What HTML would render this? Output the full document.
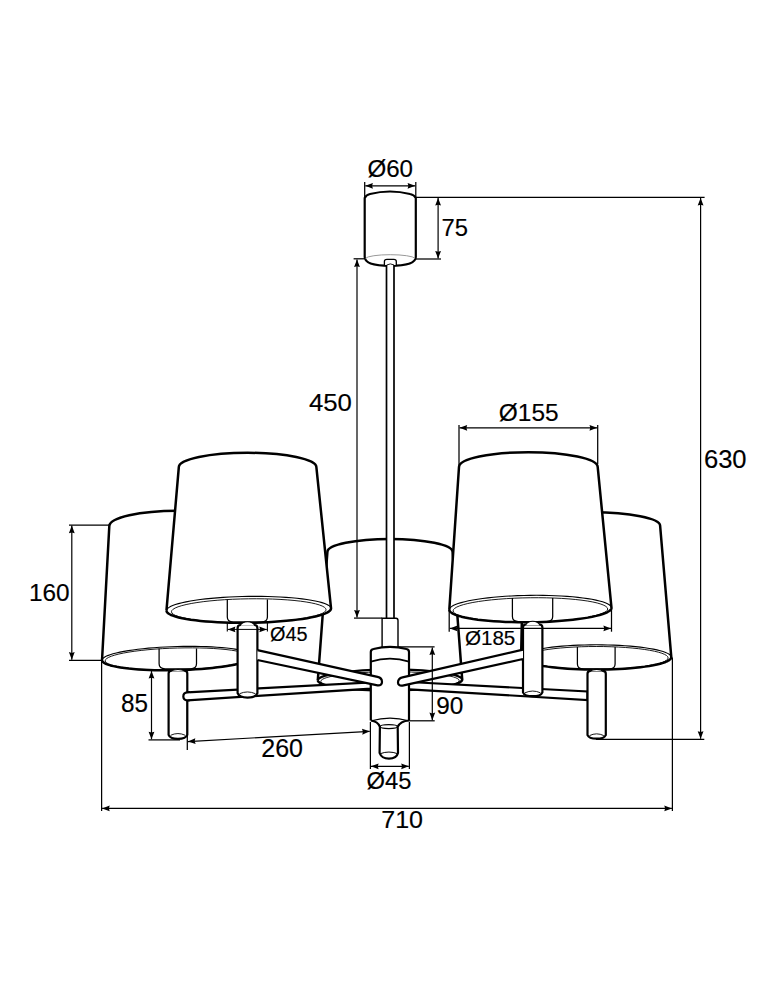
<!DOCTYPE html>
<html><head><meta charset="utf-8"><style>html,body{margin:0;padding:0;background:#fff;width:774px;height:1000px;overflow:hidden;position:relative}</style></head>
<body>
<svg width="774" height="1000" viewBox="0 0 774 1000" style="position:absolute;left:0;top:0;font-family:'Liberation Sans',sans-serif">
<rect width="774" height="1000" fill="#fff"/>
<path d="M317.8,680.38 L327.4,552 A62.6,13 0 0 1 452.6,552 L462.2,679.62 L461.98,680.45 L461.32,681.27 L460.22,682.08 L458.68,682.89 L456.72,683.67 L454.35,684.43 L451.59,685.16 L448.44,685.87 L444.94,686.53 L441.09,687.16 L436.93,687.74 L432.48,688.27 L427.77,688.76 L422.83,689.18 L417.68,689.56 L412.36,689.87 L406.91,690.12 L401.35,690.31 L395.72,690.44 L390.05,690.5 L384.39,690.5 L378.76,690.43 L373.2,690.3 L367.74,690.1 L362.42,689.85 L357.27,689.53 L352.32,689.15 L347.61,688.72 L343.15,688.23 L338.99,687.69 L335.14,687.11 L331.62,686.48 L328.47,685.81 L325.7,685.1 L323.32,684.37 L321.35,683.6 L319.81,682.82 L318.7,682.02 L318.03,681.2 L317.8,680.38 Z" fill="#fff" stroke="none"/>
<path d="M317.8,680.38 L318.02,679.55 L318.68,678.73 L319.78,677.92 L321.32,677.11 L323.28,676.33 L325.65,675.57 L328.41,674.84 L331.56,674.13 L335.06,673.47 L338.91,672.84 L343.07,672.26 L347.52,671.73 L352.23,671.24 L357.17,670.82 L362.32,670.44 L367.64,670.13 L373.09,669.88 L378.65,669.69 L384.28,669.56 L389.95,669.5 L395.61,669.5 L401.24,669.57 L406.8,669.7 L412.26,669.9 L417.58,670.15 L422.73,670.47 L427.68,670.85 L432.39,671.28 L436.85,671.77 L441.01,672.31 L444.86,672.89 L448.38,673.52 L451.53,674.19 L454.3,674.9 L456.68,675.63 L458.65,676.4 L460.19,677.18 L461.3,677.98 L461.97,678.8 L462.2,679.62 " fill="none" stroke="#000" stroke-width="2.2"/>
<path d="M459.2,680.64 L458.83,681.61 L457.7,682.58 L455.83,683.53 L453.24,684.45 L449.95,685.34 L446.01,686.17 L441.46,686.95 L436.34,687.67 L430.71,688.31 L424.64,688.87 L418.19,689.35 L411.43,689.73 L404.43,690.02 L397.28,690.21 L390.05,690.3 L382.82,690.29 L375.66,690.17 L368.66,689.96 L361.9,689.64 L355.44,689.24 L349.37,688.74 L343.73,688.15 L338.61,687.49 L334.05,686.76 L330.1,685.96 L326.8,685.11 L324.2,684.22 L322.32,683.29 L321.19,682.33 L320.8,681.36 L321.17,680.39 L322.3,679.42 L324.17,678.47 L326.76,677.55 L330.05,676.66 L333.99,675.83 L338.54,675.05 L343.66,674.33 L349.29,673.69 L355.36,673.13 L361.81,672.65 L368.57,672.27 L375.57,671.98 L382.72,671.79 L389.95,671.7 L397.18,671.71 L404.34,671.83 L411.34,672.04 L418.1,672.36 L424.56,672.76 L430.63,673.26 L436.27,673.85 L441.39,674.51 L445.95,675.24 L449.9,676.04 L453.2,676.89 L455.8,677.78 L457.68,678.71 L458.81,679.67 L459.2,680.64 Z" fill="none" stroke="#000" stroke-width="0.9"/>
<path d="M317.8,680.38 L327.4,552 A62.6,13 0 0 1 452.6,552 L462.2,679.62 L461.98,680.45 L461.32,681.27 L460.22,682.08 L458.68,682.89 L456.72,683.67 L454.35,684.43 L451.59,685.16 L448.44,685.87 L444.94,686.53 L441.09,687.16 L436.93,687.74 L432.48,688.27 L427.77,688.76 L422.83,689.18 L417.68,689.56 L412.36,689.87 L406.91,690.12 L401.35,690.31 L395.72,690.44 L390.05,690.5 L384.39,690.5 L378.76,690.43 L373.2,690.3 L367.74,690.1 L362.42,689.85 L357.27,689.53 L352.32,689.15 L347.61,688.72 L343.15,688.23 L338.99,687.69 L335.14,687.11 L331.62,686.48 L328.47,685.81 L325.7,685.1 L323.32,684.37 L321.35,683.6 L319.81,682.82 L318.7,682.02 L318.03,681.2 L317.8,680.38 " fill="none" stroke="#000" stroke-width="2.5" stroke-linejoin="round"/>
<path d="M102.03,660.28 L109.3,526.3 A68.2,15.5 0 0 1 245.7,526.3 L253.37,656.32 L253.17,657.25 L252.49,658.19 L251.36,659.13 L249.77,660.06 L247.73,660.98 L245.27,661.89 L242.38,662.77 L239.1,663.63 L235.44,664.45 L231.43,665.24 L227.08,665.98 L222.43,666.68 L217.5,667.32 L212.33,667.91 L206.94,668.44 L201.38,668.91 L195.67,669.31 L189.84,669.64 L183.95,669.9 L178.01,670.1 L172.07,670.22 L166.17,670.26 L160.33,670.23 L154.61,670.13 L149.03,669.96 L143.62,669.71 L138.42,669.39 L133.47,669.01 L128.79,668.56 L124.41,668.04 L120.36,667.47 L116.66,666.84 L113.34,666.15 L110.41,665.42 L107.9,664.64 L105.83,663.83 L104.19,662.98 L103.01,662.1 L102.28,661.2 L102.03,660.28 Z" fill="#fff" stroke="none"/>
<path d="M102.03,660.28 L102.23,659.35 L102.91,658.41 L104.04,657.47 L105.63,656.54 L107.67,655.62 L110.13,654.71 L113.02,653.83 L116.3,652.97 L119.96,652.15 L123.97,651.36 L128.32,650.62 L132.97,649.92 L137.9,649.28 L143.07,648.69 L148.46,648.16 L154.02,647.69 L159.73,647.29 L165.56,646.96 L171.45,646.7 L177.39,646.5 L183.33,646.38 L189.23,646.34 L195.07,646.37 L200.79,646.47 L206.37,646.64 L211.78,646.89 L216.98,647.21 L221.93,647.59 L226.61,648.04 L230.99,648.56 L235.04,649.13 L238.74,649.76 L242.06,650.45 L244.99,651.18 L247.5,651.96 L249.57,652.77 L251.21,653.62 L252.39,654.5 L253.12,655.4 L253.37,656.32 " fill="none" stroke="#000" stroke-width="1.1"/>
<path d="M250.18,657 L249.81,658.15 L248.65,659.31 L246.72,660.46 L244.03,661.6 L240.61,662.7 L236.5,663.77 L231.75,664.78 L226.41,665.73 L220.53,666.6 L214.18,667.39 L207.44,668.08 L200.37,668.68 L193.05,669.16 L185.56,669.54 L177.99,669.8 L170.41,669.93 L162.91,669.95 L155.58,669.85 L148.48,669.63 L141.71,669.29 L135.33,668.83 L129.42,668.27 L124.03,667.6 L119.23,666.84 L115.08,665.99 L111.61,665.07 L108.86,664.07 L106.87,663.02 L105.65,661.93 L105.22,660.8 L105.59,659.65 L106.75,658.49 L108.68,657.34 L111.37,656.2 L114.79,655.1 L118.9,654.03 L123.65,653.02 L128.99,652.07 L134.87,651.2 L141.22,650.41 L147.96,649.72 L155.03,649.12 L162.35,648.64 L169.84,648.26 L177.41,648 L184.99,647.87 L192.49,647.85 L199.82,647.95 L206.92,648.17 L213.69,648.51 L220.07,648.97 L225.98,649.53 L231.37,650.2 L236.17,650.96 L240.32,651.81 L243.79,652.73 L246.54,653.73 L248.53,654.78 L249.75,655.87 L250.18,657 Z" fill="none" stroke="#000" stroke-width="0.9"/>
<path d="M102.03,660.28 L109.3,526.3 A68.2,15.5 0 0 1 245.7,526.3 L253.37,656.32 L253.17,657.25 L252.49,658.19 L251.36,659.13 L249.77,660.06 L247.73,660.98 L245.27,661.89 L242.38,662.77 L239.1,663.63 L235.44,664.45 L231.43,665.24 L227.08,665.98 L222.43,666.68 L217.5,667.32 L212.33,667.91 L206.94,668.44 L201.38,668.91 L195.67,669.31 L189.84,669.64 L183.95,669.9 L178.01,670.1 L172.07,670.22 L166.17,670.26 L160.33,670.23 L154.61,670.13 L149.03,669.96 L143.62,669.71 L138.42,669.39 L133.47,669.01 L128.79,668.56 L124.41,668.04 L120.36,667.47 L116.66,666.84 L113.34,666.15 L110.41,665.42 L107.9,664.64 L105.83,663.83 L104.19,662.98 L103.01,662.1 L102.28,661.2 L102.03,660.28 " fill="none" stroke="#000" stroke-width="2.5" stroke-linejoin="round"/>
<path d="M159.1,648.5 L159.1,663.8 C159.1,667.8 161.1,668.8 165.1,668.8 L190.5,668.8 C194.5,668.8 196.5,667.8 196.5,663.8 L196.5,648.5" stroke="#000" stroke-width="1.25" fill="none" />
<path d="M521.1,657.2 L523.9,525.5 A68.1,13.2 0 0 1 660.1,525.5 L671.3,657.2 L671.07,658.17 L670.38,659.14 L669.22,660.09 L667.62,661.03 L665.58,661.95 L663.11,662.83 L660.23,663.68 L656.96,664.49 L653.31,665.25 L649.3,665.97 L644.97,666.63 L640.34,667.23 L635.44,667.77 L630.29,668.25 L624.94,668.66 L619.41,668.99 L613.73,669.26 L607.95,669.45 L602.09,669.56 L596.2,669.6 L590.31,669.56 L584.45,669.45 L578.67,669.26 L572.99,668.99 L567.46,668.66 L562.11,668.25 L556.96,667.77 L552.06,667.23 L547.43,666.63 L543.1,665.97 L539.09,665.25 L535.44,664.49 L532.17,663.68 L529.29,662.83 L526.82,661.95 L524.78,661.03 L523.18,660.09 L522.02,659.14 L521.33,658.17 L521.1,657.2 Z" fill="#fff" stroke="none"/>
<path d="M521.1,657.2 L521.33,656.23 L522.02,655.26 L523.18,654.31 L524.78,653.37 L526.82,652.45 L529.29,651.57 L532.17,650.72 L535.44,649.91 L539.09,649.15 L543.1,648.43 L547.43,647.77 L552.06,647.17 L556.96,646.63 L562.11,646.15 L567.46,645.74 L572.99,645.41 L578.67,645.14 L584.45,644.95 L590.31,644.84 L596.2,644.8 L602.09,644.84 L607.95,644.95 L613.73,645.14 L619.41,645.41 L624.94,645.74 L630.29,646.15 L635.44,646.63 L640.34,647.17 L644.97,647.77 L649.3,648.43 L653.31,649.15 L656.96,649.91 L660.23,650.72 L663.11,651.57 L665.58,652.45 L667.62,653.37 L669.22,654.31 L670.38,655.26 L671.07,656.23 L671.3,657.2 " fill="none" stroke="#000" stroke-width="1.1"/>
<path d="M668.1,657.9 L667.71,659.09 L666.53,660.27 L664.58,661.42 L661.88,662.54 L658.47,663.6 L654.37,664.6 L649.63,665.53 L644.31,666.37 L638.46,667.12 L632.15,667.77 L625.44,668.31 L618.42,668.74 L611.15,669.05 L603.72,669.24 L596.2,669.3 L588.68,669.24 L581.25,669.05 L573.98,668.74 L566.96,668.31 L560.25,667.77 L553.94,667.12 L548.09,666.37 L542.77,665.53 L538.03,664.6 L533.93,663.6 L530.52,662.54 L527.82,661.42 L525.87,660.27 L524.69,659.09 L524.3,657.9 L524.69,656.71 L525.87,655.53 L527.82,654.38 L530.52,653.26 L533.93,652.2 L538.03,651.2 L542.77,650.27 L548.09,649.43 L553.94,648.68 L560.25,648.03 L566.96,647.49 L573.98,647.06 L581.25,646.75 L588.68,646.56 L596.2,646.5 L603.72,646.56 L611.15,646.75 L618.42,647.06 L625.44,647.49 L632.15,648.03 L638.46,648.68 L644.31,649.43 L649.63,650.27 L654.37,651.2 L658.47,652.2 L661.88,653.26 L664.58,654.38 L666.53,655.53 L667.71,656.71 L668.1,657.9 Z" fill="none" stroke="#000" stroke-width="0.9"/>
<path d="M521.1,657.2 L523.9,525.5 A68.1,13.2 0 0 1 660.1,525.5 L671.3,657.2 L671.07,658.17 L670.38,659.14 L669.22,660.09 L667.62,661.03 L665.58,661.95 L663.11,662.83 L660.23,663.68 L656.96,664.49 L653.31,665.25 L649.3,665.97 L644.97,666.63 L640.34,667.23 L635.44,667.77 L630.29,668.25 L624.94,668.66 L619.41,668.99 L613.73,669.26 L607.95,669.45 L602.09,669.56 L596.2,669.6 L590.31,669.56 L584.45,669.45 L578.67,669.26 L572.99,668.99 L567.46,668.66 L562.11,668.25 L556.96,667.77 L552.06,667.23 L547.43,666.63 L543.1,665.97 L539.09,665.25 L535.44,664.49 L532.17,663.68 L529.29,662.83 L526.82,661.95 L524.78,661.03 L523.18,660.09 L522.02,659.14 L521.33,658.17 L521.1,657.2 " fill="none" stroke="#000" stroke-width="2.5" stroke-linejoin="round"/>
<path d="M577.4,647 L577.4,664 C577.4,668 579.4,669 583.4,669 L609.1,669 C613.1,669 615.1,668 615.1,664 L615.1,647" stroke="#000" stroke-width="1.25" fill="none" />
<path d="M166.46,610.71 L178.8,467.3 A68.8,14.5 0 0 1 316.4,467.3 L331.04,608.49 L330.8,609.53 L330.06,610.57 L328.81,611.61 L327.07,612.63 L324.85,613.63 L322.15,614.61 L319.01,615.55 L315.43,616.46 L311.44,617.33 L307.07,618.15 L302.33,618.92 L297.26,619.63 L291.9,620.28 L286.27,620.86 L280.41,621.37 L274.35,621.81 L268.13,622.18 L261.8,622.46 L255.38,622.67 L248.93,622.8 L242.47,622.84 L236.05,622.81 L229.71,622.69 L223.49,622.49 L217.42,622.22 L211.55,621.86 L205.9,621.43 L200.52,620.93 L195.44,620.35 L190.69,619.72 L186.29,619.01 L182.28,618.25 L178.68,617.44 L175.51,616.58 L172.79,615.67 L170.54,614.73 L168.77,613.76 L167.5,612.76 L166.73,611.74 L166.46,610.71 Z" fill="#fff" stroke="none"/>
<path d="M166.46,610.71 L166.7,609.67 L167.44,608.63 L168.69,607.59 L170.43,606.57 L172.65,605.57 L175.35,604.59 L178.49,603.65 L182.07,602.74 L186.06,601.87 L190.43,601.05 L195.17,600.28 L200.24,599.57 L205.6,598.92 L211.23,598.34 L217.09,597.83 L223.15,597.39 L229.37,597.02 L235.7,596.74 L242.12,596.53 L248.57,596.4 L255.03,596.36 L261.45,596.39 L267.79,596.51 L274.01,596.71 L280.08,596.98 L285.95,597.34 L291.6,597.77 L296.98,598.27 L302.06,598.85 L306.81,599.48 L311.21,600.19 L315.22,600.95 L318.82,601.76 L321.99,602.62 L324.71,603.53 L326.96,604.47 L328.73,605.44 L330,606.44 L330.77,607.46 L331.04,608.49 " fill="none" stroke="#000" stroke-width="1.1"/>
<path d="M326.04,609.66 L325.64,610.91 L324.39,612.16 L322.31,613.39 L319.43,614.59 L315.77,615.75 L311.38,616.85 L306.3,617.89 L300.59,618.85 L294.31,619.72 L287.54,620.49 L280.33,621.15 L272.79,621.7 L264.98,622.12 L256.99,622.43 L248.91,622.6 L240.83,622.64 L232.84,622.55 L225.02,622.34 L217.46,621.99 L210.24,621.52 L203.45,620.94 L197.15,620.24 L191.42,619.43 L186.31,618.53 L181.89,617.55 L178.2,616.49 L175.29,615.36 L173.18,614.19 L171.9,612.98 L171.46,611.74 L171.86,610.49 L173.11,609.24 L175.19,608.01 L178.07,606.81 L181.73,605.65 L186.12,604.55 L191.2,603.51 L196.91,602.55 L203.19,601.68 L209.96,600.91 L217.17,600.25 L224.71,599.7 L232.52,599.28 L240.51,598.97 L248.59,598.8 L256.67,598.76 L264.66,598.85 L272.48,599.06 L280.04,599.41 L287.26,599.88 L294.05,600.46 L300.35,601.16 L306.08,601.97 L311.19,602.87 L315.61,603.85 L319.3,604.91 L322.21,606.04 L324.32,607.21 L325.6,608.42 L326.04,609.66 Z" fill="none" stroke="#000" stroke-width="0.9"/>
<path d="M166.46,610.71 L178.8,467.3 A68.8,14.5 0 0 1 316.4,467.3 L331.04,608.49 L330.8,609.53 L330.06,610.57 L328.81,611.61 L327.07,612.63 L324.85,613.63 L322.15,614.61 L319.01,615.55 L315.43,616.46 L311.44,617.33 L307.07,618.15 L302.33,618.92 L297.26,619.63 L291.9,620.28 L286.27,620.86 L280.41,621.37 L274.35,621.81 L268.13,622.18 L261.8,622.46 L255.38,622.67 L248.93,622.8 L242.47,622.84 L236.05,622.81 L229.71,622.69 L223.49,622.49 L217.42,622.22 L211.55,621.86 L205.9,621.43 L200.52,620.93 L195.44,620.35 L190.69,619.72 L186.29,619.01 L182.28,618.25 L178.68,617.44 L175.51,616.58 L172.79,615.67 L170.54,614.73 L168.77,613.76 L167.5,612.76 L166.73,611.74 L166.46,610.71 " fill="none" stroke="#000" stroke-width="2.5" stroke-linejoin="round"/>
<path d="M227.3,599.5 L227.3,617 C227.3,621 229.3,622 233.3,622 L261.4,622 C265.4,622 267.4,621 267.4,617 L267.4,599.5" stroke="#000" stroke-width="1.25" fill="none" />
<path d="M449.31,609.79 L459,467 A69.35,14.8 0 0 1 597.7,467 L611.49,607.81 L611.26,608.87 L610.52,609.93 L609.29,610.98 L607.58,612.01 L605.38,613.03 L602.73,614.02 L599.63,614.98 L596.1,615.9 L592.17,616.78 L587.86,617.61 L583.19,618.38 L578.2,619.1 L572.91,619.75 L567.36,620.33 L561.59,620.85 L555.62,621.28 L549.49,621.65 L543.25,621.93 L536.93,622.13 L530.56,622.25 L524.2,622.29 L517.88,622.24 L511.63,622.11 L505.5,621.9 L499.52,621.6 L493.73,621.23 L488.17,620.78 L482.87,620.26 L477.86,619.67 L473.17,619.01 L468.84,618.29 L464.89,617.51 L461.34,616.67 L458.22,615.79 L455.54,614.86 L453.33,613.9 L451.59,612.9 L450.33,611.88 L449.57,610.84 L449.31,609.79 Z" fill="#fff" stroke="none"/>
<path d="M449.31,609.79 L449.54,608.73 L450.28,607.67 L451.51,606.62 L453.22,605.59 L455.42,604.57 L458.07,603.58 L461.17,602.62 L464.7,601.7 L468.63,600.82 L472.94,599.99 L477.61,599.22 L482.6,598.5 L487.89,597.85 L493.44,597.27 L499.21,596.75 L505.18,596.32 L511.31,595.95 L517.55,595.67 L523.87,595.47 L530.24,595.35 L536.6,595.31 L542.92,595.36 L549.17,595.49 L555.3,595.7 L561.28,596 L567.07,596.37 L572.63,596.82 L577.93,597.34 L582.94,597.93 L587.63,598.59 L591.96,599.31 L595.91,600.09 L599.46,600.93 L602.58,601.81 L605.26,602.74 L607.47,603.7 L609.21,604.7 L610.47,605.72 L611.23,606.76 L611.49,607.81 " fill="none" stroke="#000" stroke-width="1.1"/>
<path d="M607.69,608.96 L607.29,610.23 L606.04,611.5 L603.96,612.76 L601.07,613.98 L597.41,615.16 L593.02,616.28 L587.94,617.33 L582.23,618.3 L575.95,619.17 L569.18,619.95 L561.97,620.61 L554.43,621.16 L546.62,621.59 L538.63,621.88 L530.55,622.05 L522.47,622.08 L514.47,621.98 L506.66,621.75 L499.1,621.38 L491.88,620.89 L485.09,620.28 L478.79,619.56 L473.06,618.73 L467.95,617.81 L463.54,616.79 L459.85,615.7 L456.93,614.55 L454.83,613.35 L453.54,612.11 L453.11,610.84 L453.51,609.57 L454.76,608.3 L456.84,607.04 L459.73,605.82 L463.39,604.64 L467.78,603.52 L472.86,602.47 L478.57,601.5 L484.85,600.63 L491.62,599.85 L498.83,599.19 L506.37,598.64 L514.18,598.21 L522.17,597.92 L530.25,597.75 L538.33,597.72 L546.33,597.82 L554.14,598.05 L561.7,598.42 L568.92,598.91 L575.71,599.52 L582.01,600.24 L587.74,601.07 L592.85,601.99 L597.26,603.01 L600.95,604.1 L603.87,605.25 L605.97,606.45 L607.26,607.69 L607.69,608.96 Z" fill="none" stroke="#000" stroke-width="0.9"/>
<path d="M449.31,609.79 L459,467 A69.35,14.8 0 0 1 597.7,467 L611.49,607.81 L611.26,608.87 L610.52,609.93 L609.29,610.98 L607.58,612.01 L605.38,613.03 L602.73,614.02 L599.63,614.98 L596.1,615.9 L592.17,616.78 L587.86,617.61 L583.19,618.38 L578.2,619.1 L572.91,619.75 L567.36,620.33 L561.59,620.85 L555.62,621.28 L549.49,621.65 L543.25,621.93 L536.93,622.13 L530.56,622.25 L524.2,622.29 L517.88,622.24 L511.63,622.11 L505.5,621.9 L499.52,621.6 L493.73,621.23 L488.17,620.78 L482.87,620.26 L477.86,619.67 L473.17,619.01 L468.84,618.29 L464.89,617.51 L461.34,616.67 L458.22,615.79 L455.54,614.86 L453.33,613.9 L451.59,612.9 L450.33,611.88 L449.57,610.84 L449.31,609.79 " fill="none" stroke="#000" stroke-width="2.5" stroke-linejoin="round"/>
<path d="M512.4,598 L512.4,616.6 C512.4,620.6 514.4,621.6 518.4,621.6 L546.7,621.6 C550.7,621.6 552.7,620.6 552.7,616.6 L552.7,598" stroke="#000" stroke-width="1.25" fill="none" />
<path d="M364.7,198 Q366,195 370,194 Q390,189 410,194 Q414.5,195 415.8,198 L415.8,257 C415.8,263.5 404,265.8 390,265.8 C376,265.8 364.7,263.5 364.7,257 Z" stroke="#000" stroke-width="2.2" fill="#fff" />
<path d="M365.5,258.3 A25,4.2 0 0 1 415,258.3" stroke="#999" stroke-width="1.0" fill="none" />
<rect x="386.5" y="262" width="7.5" height="356" fill="#fff"/>
<line x1="386.5" y1="262" x2="386.5" y2="618" stroke="#000" stroke-width="1.7"/>
<line x1="394" y1="262" x2="394" y2="618" stroke="#000" stroke-width="1.7"/>
<path d="M384.4,265 L384.4,261.5 Q384.4,259.4 387,259.4 L393.8,259.4 Q396.3,259.4 396.3,261.5 L396.3,265" stroke="#000" stroke-width="1.3" fill="#fff" />
<path d="M386.7,265 Q390.4,262.8 394.1,265" stroke="#000" stroke-width="0.9" fill="none" />
<path d="M382.1,647 L382.1,618.2 L396,618.2 Q398,618.2 398,620.5 L398,647" stroke="#000" stroke-width="1.4" fill="#fff" />
<path d="M187.3,692.3 L371,682.4 L371,688.6 L187.3,700.3" stroke="#000" stroke-width="2.2" fill="#fff" />
<path d="M409.2,682 L587.5,691.5 L587.5,700 L409.2,689.3" stroke="#000" stroke-width="2.2" fill="#fff" />
<path d="M370.8,720.5 L370.8,652 Q370.8,649.5 373.5,649 Q390,644.8 406.5,649 Q409,649.5 409,652 L409,720.5" stroke="#000" stroke-width="2.2" fill="#fff" />
<path d="M370.8,661.6 Q390,655.5 409,661.6" stroke="#000" stroke-width="1.7" fill="none" />
<path d="M370.8,720.5 C375,721 378.5,723 379.9,726.8 L379.6,753 C381,757 385,758.6 389,758.6 C393,758.6 397,757 398,753 L397.7,726.8 C399.5,723 403,721 409,720.5" stroke="#000" stroke-width="2.2" fill="#fff" />
<path d="M371.5,720.8 Q390,715.5 408.5,720.8" stroke="#000" stroke-width="1.1" fill="none" />
<ellipse cx="388.8" cy="726.6" rx="8.6" ry="2" fill="none" stroke="#000" stroke-width="1.1"/>
<path d="M380.5,753.6 Q389,750.5 397.3,753.6" stroke="#000" stroke-width="1.0" fill="none" />
<path d="M168.6,673.6 Q168.6,670.6 171.6,670.6 L184.3,670.6 Q187.3,670.6 187.3,673.6 L187.3,734.8 C185.3,740.2 170.6,740.2 168.6,734.8 Z" stroke="#000" stroke-width="2.2" fill="#fff" />
<path d="M171.1,671.4 C173.6,668.8 182.3,668.8 184.8,671.4" fill="#fff" stroke="#000" stroke-width="1.1"/>
<path d="M170.6,735.3 Q177.95,731.8 185.3,735.3" fill="none" stroke="#000" stroke-width="0.9"/>
<path d="M587.5,673.8 Q587.5,670.8 590.5,670.8 L602.8,670.8 Q605.8,670.8 605.8,673.8 L605.8,735.1 C603.8,739.8 589.5,739.8 587.5,735.1 Z" stroke="#000" stroke-width="2.2" fill="#fff" />
<path d="M590,671.6 C592.5,668.6 600.8,668.6 603.3,671.6" fill="#fff" stroke="#000" stroke-width="1.1"/>
<path d="M589.5,735.6 Q596.65,732.1 603.8,735.6" fill="none" stroke="#000" stroke-width="0.9"/>
<path d="M237.6,628 Q237.6,625 240.6,625 L254.4,625 Q257.4,625 257.4,628 L257.4,693.2 C255.4,699 239.6,699 237.6,693.2 Z" stroke="#000" stroke-width="2.2" fill="#fff" />
<path d="M240.1,625.8 C242.6,620.4 252.4,620.4 254.9,625.8" fill="#fff" stroke="#000" stroke-width="1.1"/>
<path d="M239.6,693.7 Q247.5,690.2 255.4,693.7" fill="none" stroke="#000" stroke-width="0.9"/>
<path d="M523,627.5 Q523,624.5 526,624.5 L539.4,624.5 Q542.4,624.5 542.4,627.5 L542.4,692.3 C540.4,697.5 525,697.5 523,692.3 Z" stroke="#000" stroke-width="2.2" fill="#fff" />
<path d="M525.5,625.3 C528,619.9 537.4,619.9 539.9,625.3" fill="#fff" stroke="#000" stroke-width="1.1"/>
<path d="M525,692.8 Q532.7,689.3 540.4,692.8" fill="none" stroke="#000" stroke-width="0.9"/>
<path d="M257.4,650.1 L377.5,676.9 C383.5,678.2 383.5,686.2 377.5,685.4 L257.4,660" stroke="#000" stroke-width="2.2" fill="#fff" />
<path d="M523,649.6 L402.5,677.4 C396.5,678.8 396.5,686.6 402.5,685.6 L523,659" stroke="#000" stroke-width="2.2" fill="#fff" />
<path d="M190,692.2 L187.3,692.3 C182,692.6 182,700.6 187.3,700.3 L190,700.2 Z" fill="#fff" stroke="none"/>
<path d="M190,692.2 L187.3,692.3 C182,692.6 182,700.6 187.3,700.3 L190,700.2" stroke="#000" stroke-width="2.2" fill="none" />
<line x1="364.7" y1="182" x2="364.7" y2="197" stroke="#000" stroke-width="1.25"/>
<line x1="415.8" y1="182" x2="415.8" y2="197" stroke="#000" stroke-width="1.25"/>
<line x1="365.3" y1="185.8" x2="415.2" y2="185.8" stroke="#000" stroke-width="1.2"/>
<polygon points="365.3,185.8 372.9,182.9 372.1,185.8 372.9,188.7" fill="#000"/>
<polygon points="415.2,185.8 407.6,188.7 408.4,185.8 407.6,182.9" fill="#000"/>
<text transform="matrix(0.9877,0,0,1,367.40,177.40)" x="0" y="0" font-size="24.43" stroke="#000" stroke-width="0.15">Ø60</text>
<line x1="416" y1="197.4" x2="704.6" y2="197.4" stroke="#000" stroke-width="1.25"/>
<line x1="416" y1="259" x2="441" y2="259" stroke="#000" stroke-width="1.25"/>
<line x1="438.1" y1="198" x2="438.1" y2="258.5" stroke="#000" stroke-width="1.2"/>
<polygon points="438.1,198 441,205.6 438.1,204.8 435.2,205.6" fill="#000"/>
<polygon points="438.1,258.5 435.2,250.9 438.1,251.7 441,250.9" fill="#000"/>
<text transform="matrix(0.9925,0,0,1,441.60,235.90)" x="0" y="0" font-size="24.00" stroke="#000" stroke-width="0.15">75</text>
<line x1="353.6" y1="258.8" x2="364" y2="258.8" stroke="#000" stroke-width="1.25"/>
<line x1="357" y1="259.4" x2="357" y2="617.6" stroke="#000" stroke-width="1.2"/>
<polygon points="357,259.4 359.9,267 357,266.2 354.1,267" fill="#000"/>
<polygon points="357,617.6 354.1,610 357,610.8 359.9,610" fill="#000"/>
<line x1="354" y1="618.1" x2="382.1" y2="618.1" stroke="#000" stroke-width="1.25"/>
<text transform="matrix(1.0556,0,0,1,308.90,410.90)" x="0" y="0" font-size="24.43" stroke="#000" stroke-width="0.15">450</text>
<line x1="700.6" y1="198" x2="700.6" y2="738.8" stroke="#000" stroke-width="1.2"/>
<polygon points="700.6,198 703.5,205.6 700.6,204.8 697.7,205.6" fill="#000"/>
<polygon points="700.6,738.8 697.7,731.2 700.6,732 703.5,731.2" fill="#000"/>
<line x1="596" y1="739.3" x2="704.3" y2="739.3" stroke="#000" stroke-width="1.25"/>
<text transform="matrix(1.0243,0,0,1,703.90,468.30)" x="0" y="0" font-size="25.00" stroke="#000" stroke-width="0.15">630</text>
<line x1="459" y1="425" x2="459" y2="465" stroke="#000" stroke-width="1.25"/>
<line x1="597.7" y1="425" x2="597.7" y2="464" stroke="#000" stroke-width="1.25"/>
<line x1="459.6" y1="427.8" x2="597.1" y2="427.8" stroke="#000" stroke-width="1.2"/>
<polygon points="459.6,427.8 467.2,424.9 466.4,427.8 467.2,430.7" fill="#000"/>
<polygon points="597.1,427.8 589.5,430.7 590.3,427.8 589.5,424.9" fill="#000"/>
<text transform="matrix(1.0320,0,0,1,498.80,421.30)" x="0" y="0" font-size="23.71" stroke="#000" stroke-width="0.15">Ø155</text>
<line x1="69" y1="525" x2="109.2" y2="525" stroke="#000" stroke-width="1.25"/>
<line x1="69" y1="660.3" x2="102" y2="660.3" stroke="#000" stroke-width="1.25"/>
<line x1="71.8" y1="525.6" x2="71.8" y2="659.7" stroke="#000" stroke-width="1.2"/>
<polygon points="71.8,525.6 74.7,533.2 71.8,532.4 68.9,533.2" fill="#000"/>
<polygon points="71.8,659.7 68.9,652.1 71.8,652.9 74.7,652.1" fill="#000"/>
<text transform="matrix(0.9991,0,0,1,28.90,600.60)" x="0" y="0" font-size="24.43" stroke="#000" stroke-width="0.15">160</text>
<line x1="227.3" y1="622" x2="227.3" y2="631.6" stroke="#000" stroke-width="1.1"/>
<line x1="267.4" y1="622" x2="267.4" y2="631.6" stroke="#000" stroke-width="1.1"/>
<line x1="227.8" y1="629.4" x2="266.9" y2="629.4" stroke="#000" stroke-width="1.0"/>
<polygon points="227.8,629.4 235.4,626.5 234.6,629.4 235.4,632.3" fill="#000"/>
<polygon points="266.9,629.4 259.3,632.3 260.1,629.4 259.3,626.5" fill="#000"/>
<text transform="matrix(1.0019,0,0,1,270.00,641.30)" x="0" y="0" font-size="19.86" stroke="#000" stroke-width="0.15">Ø45</text>
<line x1="449.2" y1="610" x2="449.2" y2="631.7" stroke="#000" stroke-width="1.25"/>
<line x1="611.5" y1="608" x2="611.5" y2="631.7" stroke="#000" stroke-width="1.25"/>
<line x1="449.8" y1="628.4" x2="611" y2="628.4" stroke="#000" stroke-width="1.1"/>
<polygon points="449.8,628.4 457.4,625.5 456.6,628.4 457.4,631.3" fill="#000"/>
<polygon points="611,628.4 603.4,631.3 604.2,628.4 603.4,625.5" fill="#000"/>
<text transform="matrix(1.0317,0,0,1,464.90,645.00)" x="0" y="0" font-size="20.00" stroke="#000" stroke-width="0.15">Ø185</text>
<line x1="148.5" y1="670.4" x2="169" y2="670.4" stroke="#000" stroke-width="1.25"/>
<line x1="148.5" y1="739.9" x2="180" y2="739.9" stroke="#000" stroke-width="1.25"/>
<line x1="151.5" y1="671" x2="151.5" y2="739.3" stroke="#000" stroke-width="1.2"/>
<polygon points="151.5,671 154.4,678.6 151.5,677.8 148.6,678.6" fill="#000"/>
<polygon points="151.5,739.3 148.6,731.7 151.5,732.5 154.4,731.7" fill="#000"/>
<text transform="matrix(0.9764,0,0,1,121.10,711.50)" x="0" y="0" font-size="24.86" stroke="#000" stroke-width="0.15">85</text>
<line x1="187.3" y1="700" x2="187.3" y2="750" stroke="#000" stroke-width="1.25"/>
<line x1="187.9" y1="741.6" x2="369.7" y2="731.3" stroke="#000" stroke-width="1.2"/>
<polygon points="187.9,741.6 195.32,738.27 194.69,741.22 195.65,744.07" fill="#000"/>
<polygon points="369.7,731.3 362.28,734.63 362.91,731.68 361.95,728.83" fill="#000"/>
<text transform="matrix(0.9970,0,0,1,261.20,757.40)" x="0" y="0" font-size="25.14" stroke="#000" stroke-width="0.15">260</text>
<line x1="398" y1="646.8" x2="434.6" y2="646.8" stroke="#000" stroke-width="1.25"/>
<line x1="409" y1="720.8" x2="434.7" y2="720.8" stroke="#000" stroke-width="1.25"/>
<line x1="432.3" y1="647.4" x2="432.3" y2="720.2" stroke="#000" stroke-width="1.2"/>
<polygon points="432.3,647.4 435.2,655 432.3,654.2 429.4,655" fill="#000"/>
<polygon points="432.3,720.2 429.4,712.6 432.3,713.4 435.2,712.6" fill="#000"/>
<text transform="matrix(1.0030,0,0,1,436.30,713.70)" x="0" y="0" font-size="24.29" stroke="#000" stroke-width="0.15">90</text>
<line x1="370.4" y1="722" x2="370.4" y2="769" stroke="#000" stroke-width="1.25"/>
<line x1="409.4" y1="722" x2="409.4" y2="769" stroke="#000" stroke-width="1.25"/>
<line x1="371" y1="766.3" x2="408.8" y2="766.3" stroke="#000" stroke-width="1.2"/>
<polygon points="371,766.3 378.6,763.4 377.8,766.3 378.6,769.2" fill="#000"/>
<polygon points="408.8,766.3 401.2,769.2 402,766.3 401.2,763.4" fill="#000"/>
<text transform="matrix(1.0040,0,0,1,366.60,789.00)" x="0" y="0" font-size="23.71" stroke="#000" stroke-width="0.15">Ø45</text>
<line x1="101.6" y1="660.5" x2="101.6" y2="811" stroke="#000" stroke-width="1.25"/>
<line x1="672.4" y1="657.5" x2="672.4" y2="811" stroke="#000" stroke-width="1.25"/>
<line x1="102.1" y1="808.4" x2="671.9" y2="808.4" stroke="#000" stroke-width="1.2"/>
<polygon points="102.1,808.4 109.7,805.5 108.9,808.4 109.7,811.3" fill="#000"/>
<polygon points="671.9,808.4 664.3,811.3 665.1,808.4 664.3,805.5" fill="#000"/>
<text transform="matrix(1.0322,0,0,1,381.20,828.20)" x="0" y="0" font-size="24.29" stroke="#000" stroke-width="0.15">710</text>
</svg>
</body></html>
